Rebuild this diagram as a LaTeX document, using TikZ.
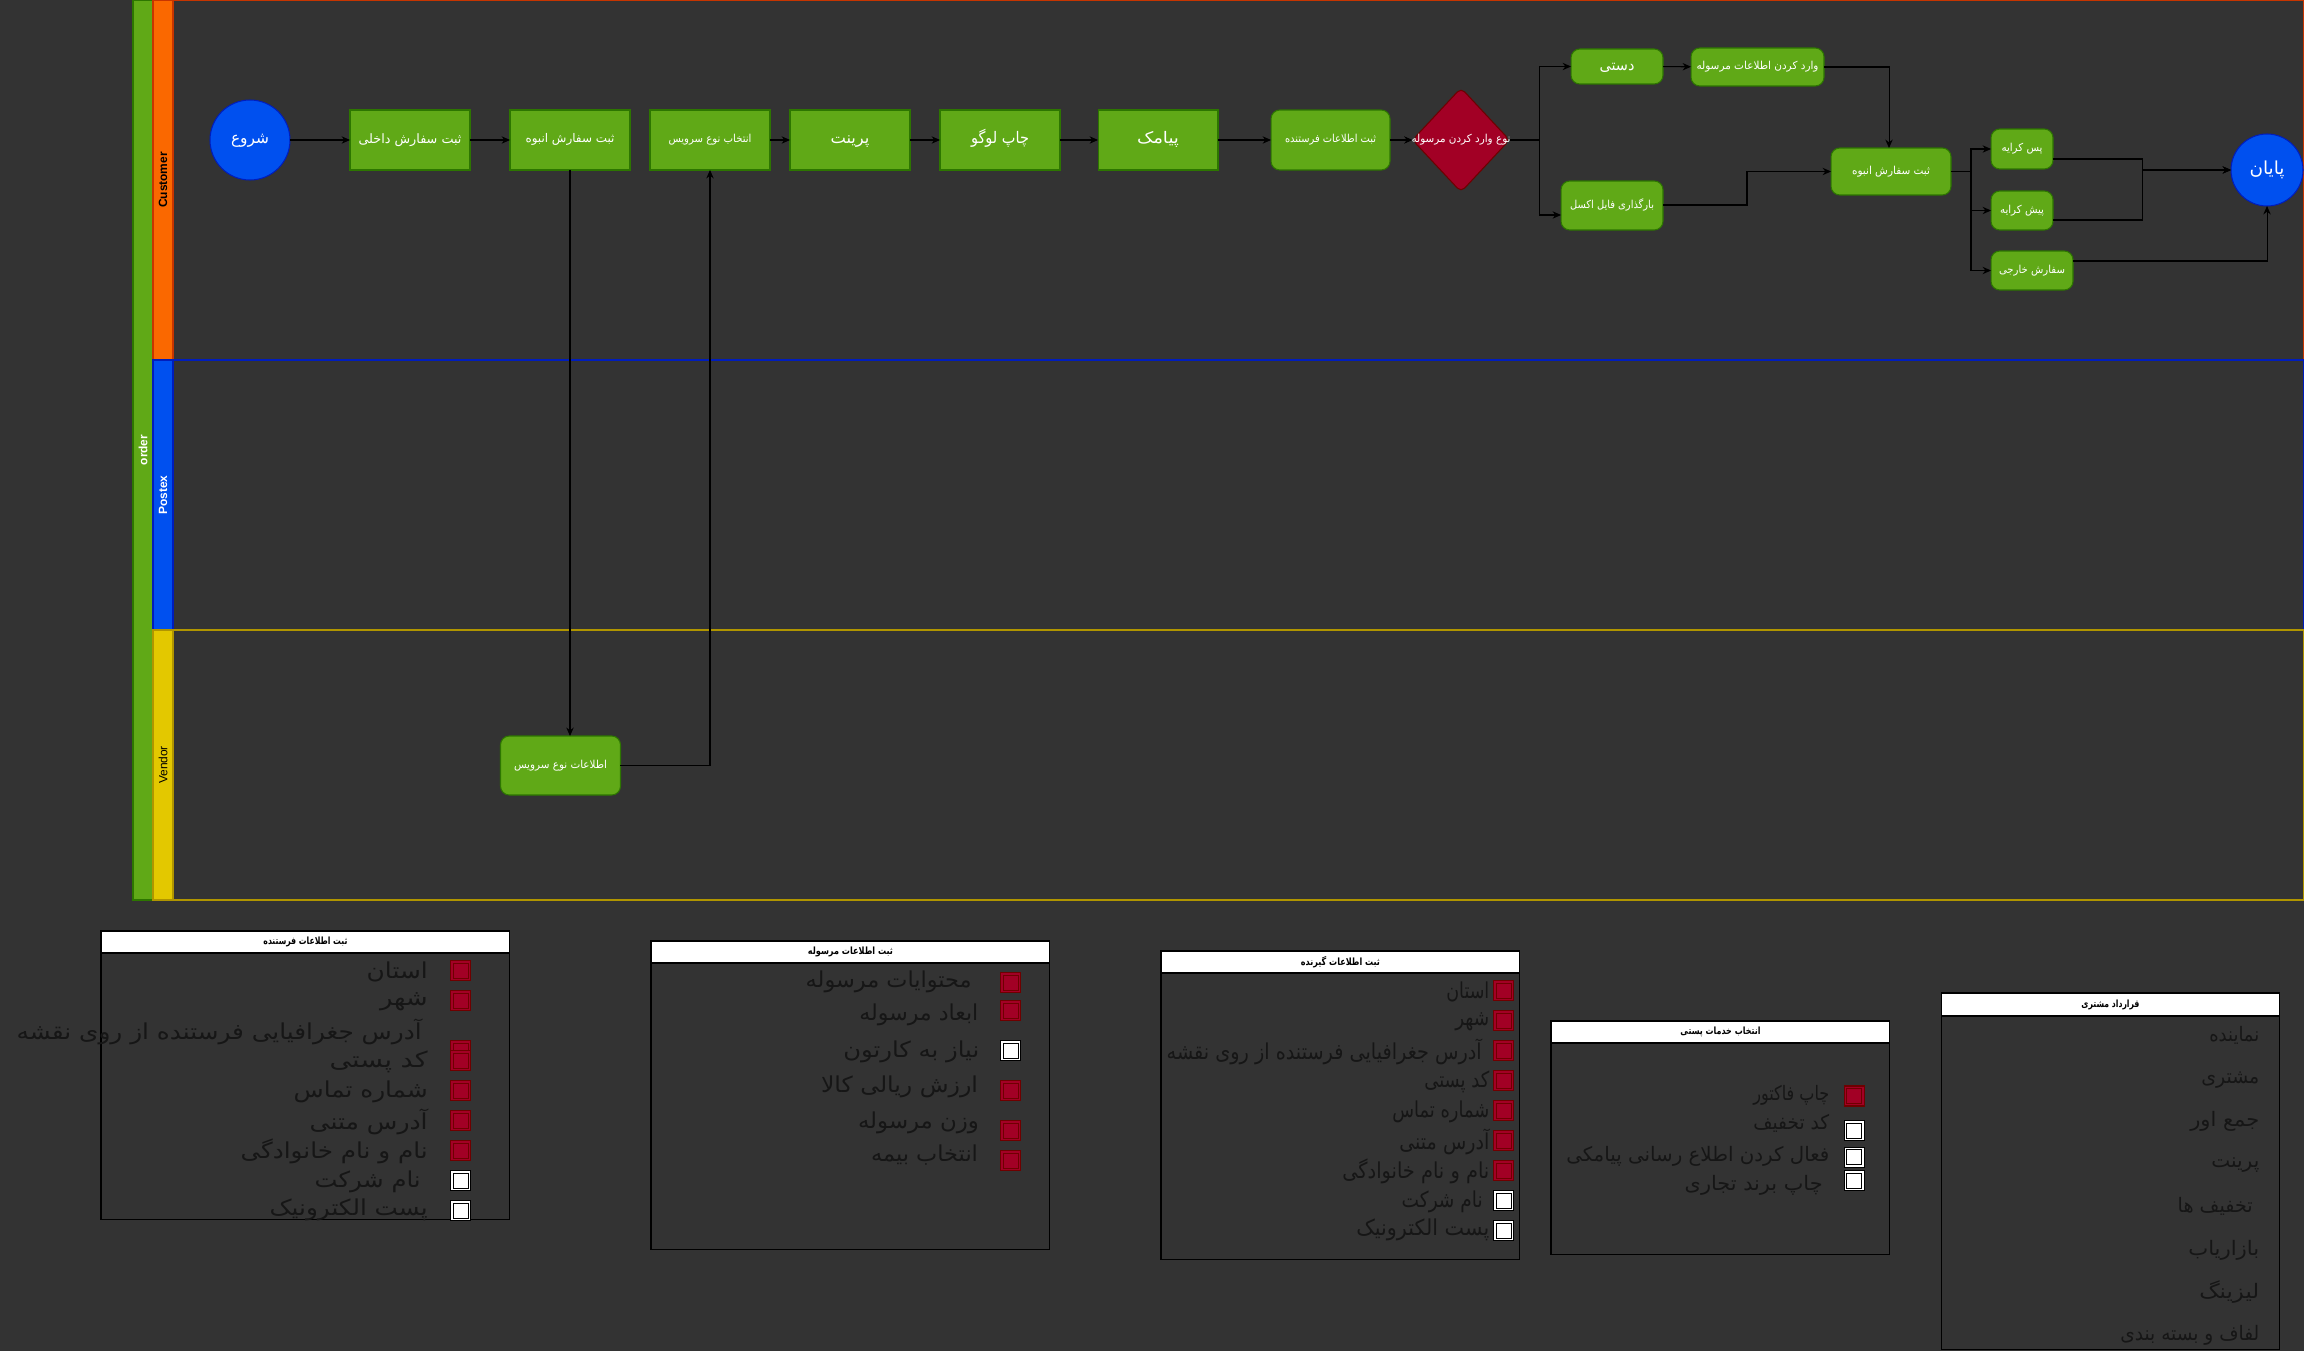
\documentclass[tikz,border=0pt]{standalone}
\usepackage{fontspec}
\usepackage{graphicx}
\setmainfont{Liberation Sans}
\newfontfamily\arabicfont[Script=Arabic]{DejaVu Sans}
\TeXXeTstate=1
\usetikzlibrary{arrows.meta,shapes.geometric,calc}
\definecolor{bg}{HTML}{333333}
\definecolor{gfill}{HTML}{60A917}
\definecolor{gbord}{HTML}{2D7600}
\definecolor{bfill}{HTML}{0050EF}
\definecolor{bbord}{HTML}{001DBC}
\definecolor{rfill}{HTML}{A20025}
\definecolor{rbord}{HTML}{6F0000}
\definecolor{orf}{HTML}{FA6800}
\definecolor{orb}{HTML}{C73500}
\definecolor{yef}{HTML}{E3C800}
\definecolor{yeb}{HTML}{B09500}
\definecolor{tx}{HTML}{161616}
\newdimen\px \px=0.02cm
\newcommand\faw[2]{\resizebox{#1\px}{\height}{\arabicfont #2}}
\newcommand\chkR[2]{\draw[draw=rbord, fill=rfill, line width=0.6pt] (#1,#2) rectangle ++(20,20);
  \draw[draw=rbord, line width=0.45pt] (#1+2.5,#2+2.5) rectangle ++(15,15);}
\newcommand\chkW[2]{\draw[draw=black, fill=white, line width=0.6pt] (#1,#2) rectangle ++(20,20);
  \draw[draw=black, line width=0.45pt] (#1+2.5,#2+2.5) rectangle ++(15,15);}
\tikzset{
  base/.style={inner sep=0pt, outer sep=0pt},
  gsq/.style={base, draw=gbord, fill=gfill, line width=0.6pt, text=white},
  grd/.style={gsq, rounded corners=5pt},
  circ/.style={base, circle, draw=bbord, fill=bfill, line width=0.6pt, text=white},
  dec/.style={base, diamond, draw=rbord, fill=rfill, line width=0.6pt, rounded corners=3pt},
  arr/.style={line width=0.6pt, draw=black, -{Stealth[length=4.8pt,width=4.2pt]}},
  lanelab/.style={base, rotate=90, font=\bfseries\fontsize{6.8}{8}\selectfont},
  hdr/.style={base, anchor=north west, draw=black, fill=white, line width=0.6pt, font=\bfseries\fontsize{5.67}{7}\selectfont},
  tbl/.style={base, anchor=north west, draw=black, line width=0.6pt},
  tt/.style={base, anchor=east, text=tx},
  f11/.style={font=\fontsize{6.24}{7.5}\selectfont, text height=4.7pt, text depth=1.56pt},
  f12/.style={font=\fontsize{6.8}{8}\selectfont, text height=5.1pt, text depth=1.7pt},
  f13/.style={font=\fontsize{7.37}{9}\selectfont, text height=5.5pt, text depth=1.84pt},
  f15/.style={font=\fontsize{8.5}{10}\selectfont, text height=6.4pt, text depth=2.1pt},
  f16/.style={font=\fontsize{9.07}{11}\selectfont, text height=6.8pt, text depth=2.27pt},
  f18/.style={font=\fontsize{10.2}{12}\selectfont, text height=7.65pt, text depth=2.55pt},
  f20/.style={font=\fontsize{11.34}{13}\selectfont},
  f22/.style={font=\fontsize{12.47}{14}\selectfont},
}
\begin{document}
\begin{tikzpicture}[x=0.02cm,y=-0.02cm]
\fill[bg] (0,0) rectangle (2304,1351);
\useasboundingbox (0,0) rectangle (2304,1351);

% pool and lanes
\draw[draw=gbord, fill=gfill, line width=0.6pt] (133,0.5) rectangle (153,900);
\draw[draw=orb, fill=orf, line width=0.6pt] (153,0.5) rectangle (173,360);
\draw[draw=orb, line width=0.6pt] (173,0.5) -- (2303,0.5) -- (2303,360);
\draw[draw=bbord, fill=bfill, line width=0.6pt] (153,360) rectangle (173,630);
\draw[draw=bbord, line width=0.6pt] (173,360) -- (2303,360) -- (2303,630);
\draw[draw=yeb, fill=yef, line width=0.6pt] (153,630) rectangle (173,900);
\draw[draw=yeb, line width=0.6pt] (173,630) -- (2303,630) -- (2303,900) -- (173,900);
\node[lanelab, text=white] (order) at (143,450) {order};
\node[lanelab, text=black] (cust) at (163,180) {Customer};
\node[lanelab, text=white] (postex) at (163,495) {Postex};
\node[lanelab, text=black, font=\fontsize{6.8}{8}\selectfont] (vendor) at (163,765) {Vendor};

% customer lane
\node[circ, minimum size=1.6cm, f16] (start) at (250,140) {\faw{38}{\beginR شروع\endR}};
\node[gsq, minimum width=2.4cm, minimum height=1.2cm, f13] (b1) at (410,140) {\faw{103}{\beginR ثبت سفارش داخلی\endR}};
\node[gsq, minimum width=2.4cm, minimum height=1.2cm, f12] (b2) at (570,140) {\faw{89}{\beginR ثبت سفارش انبوه\endR}};
\node[gsq, minimum width=2.4cm, minimum height=1.2cm, f11] (b3) at (710,140) {\faw{83}{\beginR انتخاب نوع سرویس\endR}};
\node[gsq, minimum width=2.4cm, minimum height=1.2cm, f16] (b4) at (850,140) {\faw{39}{\beginR پرینت\endR}};
\node[gsq, minimum width=2.4cm, minimum height=1.2cm, f16] (b5) at (1000,140) {\faw{58}{\beginR چاپ لوگو\endR}};
\node[gsq, minimum width=2.4cm, minimum height=1.2cm, f16] (b6) at (1158,140) {\faw{42}{\beginR پیامک\endR}};
\node[grd, minimum width=2.38cm, minimum height=1.2cm, f11] (b7) at (1330.5,140) {\faw{91}{\beginR ثبت اطلاعات فرستنده\endR}};
\node[dec, minimum width=1.94cm, minimum height=2.08cm] (d) at (1461,140) {};
\node[base, text=white, f11] (dlab) at (d) {\faw{99}{\beginR نوع وارد کردن مرسوله\endR}};
\node[grd, minimum width=1.84cm, minimum height=0.7cm, f15] (man) at (1617,66.5) {\faw{35}{\beginR دستی\endR}};
\node[grd, minimum width=2.66cm, minimum height=0.76cm, f11] (enter) at (1757.5,67) {\faw{122}{\beginR وارد کردن اطلاعات مرسوله\endR}};
\node[grd, minimum width=2.04cm, minimum height=0.98cm, f11] (excel) at (1612,205.5) {\faw{84}{\beginR بارگذاری فایل اکسل\endR}};
\node[grd, minimum width=2.4cm, minimum height=0.94cm, f11] (bulk2) at (1891,171.5) {\faw{78}{\beginR ثبت سفارش انبوه\endR}};
\node[grd, minimum width=1.24cm, minimum height=0.8cm, f11] (pas) at (2022,149) {\faw{41}{\beginR پس کرایه\endR}};
\node[grd, minimum width=1.24cm, minimum height=0.78cm, f11] (pish) at (2022,210.5) {\faw{44}{\beginR پیش کرایه\endR}};
\node[grd, minimum width=1.64cm, minimum height=0.78cm, f11] (ext) at (2032,270.5) {\faw{66}{\beginR سفارش خارجی\endR}};
\node[circ, minimum size=1.44cm, f18] (end) at (2267,170) {\faw{35}{\beginR پایان\endR}};
\coordinate (j) at (2142,170);

% vendor lane
\node[grd, minimum width=2.4cm, minimum height=1.18cm, f11] (vend) at (560.5,765.5) {\faw{93}{\beginR اطلاعات نوع سرویس\endR}};

% connectors
\draw[arr] (start) -- (b1);
\draw[arr] (b1) -- (b2);
\draw[arr] (b3) -- (b4);
\draw[arr] (b4) -- (b5);
\draw[arr] (b5) -- (b6);
\draw[arr] (b6) -- (b7);
\draw[arr] (b7) -- (d);
\draw[arr] (d.east) -- ++(30,0) |- (man.west);
\draw[arr] (d.east) -- ++(30,0) |- ($(excel.west)+(0,9.5)$);
\draw[arr] (man) -- (enter);
\draw[arr] (enter.east) -| ($(bulk2.north)+(-2,0)$);
\draw[arr] ($(excel.east)+(0,-0.5)$) -- ++(84,0) |- (bulk2.west);
\draw[arr] (bulk2.east) -- ++(20,0) |- (pas.west);
\draw[arr] (bulk2.east) -- ++(20,0) |- (pish.west);
\draw[arr] (bulk2.east) -- ++(20,0) |- (ext.west);
\draw[arr] ($(pas.east)+(0,10)$) -| (j) -- (end.west);
\draw[arr] ($(pish.east)+(0,9.5)$) -| (j) -- (end.west);
\draw[arr] ($(ext.east)+(0,-9.5)$) -| (end.south);
\draw[arr] (b2.south) -- (b2.south |- vend.north);
\draw[arr] (vend.east) -| (b3.south);

% table 1
\node[tbl, minimum width=8.18cm, minimum height=5.78cm] (t1) at (101,931) {};
\node[hdr, minimum width=8.18cm, minimum height=0.44cm] (t1h) at (101,931) {\faw{84}{\beginR ثبت اطلاعات فرستنده\endR}};
\node[tt, f22] (t1a) at (427.7,971.7) {\faw{61}{\beginR استان\endR}};
\node[tt, f22] (t1b) at (427.7,1001.7) {\faw{47.7}{\beginR شهر\endR}};
\node[tt, f22] (t1c) at (421.7,1031.7) {\faw{405}{\beginR آدرس جغرافیایی فرستنده از روی نقشه\endR}};
\node[tt, f22] (t1d) at (427.7,1061.7) {\faw{98}{\beginR کد پستی\endR}};
\node[tt, f22] (t1e) at (427.7,1091.7) {\faw{134}{\beginR شماره تماس\endR}};
\node[tt, f22] (t1f) at (427.7,1121.7) {\faw{118}{\beginR آدرس متنی\endR}};
\node[tt, f22] (t1g) at (427.7,1151.7) {\faw{187}{\beginR نام و نام خانوادگی\endR}};
\node[tt, f22] (t1h2) at (420.7,1181.7) {\faw{106}{\beginR نام شرکت\endR}};
\node[tt, f22] (t1i) at (427.7,1210) {\faw{158}{\beginR پست الکترونیک\endR}};
\chkR{450.7}{960.7}
\chkR{450.7}{990.7}
\chkR{450.7}{1040.7}
\chkR{450.7}{1050.7}
\chkR{450.7}{1080.7}
\chkR{450.7}{1110.7}
\chkR{450.7}{1140.7}
\chkW{450.7}{1170.7}
\chkW{450.7}{1200.7}

% table 2
\node[tbl, minimum width=7.98cm, minimum height=6.18cm] (t2) at (651,941) {};
\node[hdr, minimum width=7.98cm, minimum height=0.44cm] (t2h) at (651,941) {\faw{85}{\beginR ثبت اطلاعات مرسوله\endR}};
\node[tt, f22] (t2a) at (971.7,981.7) {\faw{166}{\beginR محتوایات مرسوله\endR}};
\node[tt, f22] (t2b) at (978.3,1015) {\faw{119}{\beginR ابعاد مرسوله\endR}};
\node[tt, f22] (t2c) at (979.3,1051.7) {\faw{136}{\beginR نیاز به کارتون\endR}};
\node[tt, f22] (t2d) at (978,1086.7) {\faw{157}{\beginR ارزش ریالی کالا\endR}};
\node[tt, f22] (t2e) at (979,1123.3) {\faw{121}{\beginR وزن مرسوله\endR}};
\node[tt, f22] (t2f) at (978,1155) {\faw{107}{\beginR انتخاب بیمه\endR}};
\chkR{1000.7}{972.7}
\chkR{1000.7}{1000.7}
\chkW{1000.7}{1040.7}
\chkR{1000.7}{1080.7}
\chkR{1000.7}{1120.7}
\chkR{1000.7}{1150.7}

% table 3
\node[tbl, minimum width=7.18cm, minimum height=6.18cm] (t3) at (1161,951) {};
\node[hdr, minimum width=7.18cm, minimum height=0.44cm] (t3h) at (1161,951) {\faw{79}{\beginR ثبت اطلاعات گیرنده\endR}};
\node[tt, f22] (t3a) at (1489.3,991.7) {\faw{43}{\beginR استان\endR}};
\node[tt, f22] (t3b) at (1489.3,1021.7) {\faw{34}{\beginR شهر\endR}};
\node[tt, f22] (t3c) at (1481.7,1051.7) {\faw{315}{\beginR آدرس جغرافیایی فرستنده از روی نقشه\endR}};
\node[tt, f22] (t3d) at (1489.3,1081.7) {\faw{65}{\beginR کد پستی\endR}};
\node[tt, f22] (t3e) at (1489.3,1111.7) {\faw{97}{\beginR شماره تماس\endR}};
\node[tt, f22] (t3f) at (1489.3,1141.7) {\faw{90}{\beginR آدرس متنی\endR}};
\node[tt, f22] (t3g) at (1489.3,1171.7) {\faw{147}{\beginR نام و نام خانوادگی\endR}};
\node[tt, f22] (t3h2) at (1482.7,1201.7) {\faw{81}{\beginR نام شرکت\endR}};
\node[tt, f22] (t3i) at (1489.3,1230) {\faw{133}{\beginR پست الکترونیک\endR}};
\chkR{1493.5}{980.7}
\chkR{1493.5}{1010.7}
\chkR{1493.5}{1040.7}
\chkR{1493.5}{1070.7}
\chkR{1493.5}{1100.7}
\chkR{1493.5}{1130.7}
\chkR{1493.5}{1160.7}
\chkW{1493.5}{1190.7}
\chkW{1493.5}{1220.7}

% table 4
\node[tbl, minimum width=6.78cm, minimum height=4.68cm] (t4) at (1551,1021) {};
\node[hdr, minimum width=6.78cm, minimum height=0.44cm] (t4h) at (1551,1021) {\faw{80}{\beginR انتخاب خدمات پستی\endR}};
\node[tt, f20] (t4a) at (1829.3,1095) {\faw{76}{\beginR چاپ فاکتور\endR}};
\node[tt, f20] (t4b) at (1829.3,1123.3) {\faw{76}{\beginR کد تخفیف\endR}};
\node[tt, f20] (t4c) at (1829.3,1156.7) {\faw{263}{\beginR فعال کردن اطلاع رسانی پیامکی\endR}};
\node[tt, f20] (t4d) at (1822.7,1185) {\faw{138}{\beginR چاپ برند تجاری\endR}};
\chkR{1844}{1086}
\chkW{1844}{1120.7}
\chkW{1844}{1147.3}
\chkW{1844}{1170.7}

% table 5
\node[tbl, minimum width=6.78cm, minimum height=7.13cm] (t5) at (1941,993) {};
\node[hdr, minimum width=6.78cm, minimum height=0.46cm] (t5h) at (1941,993) {\faw{58}{\beginR قرارداد مشتری\endR}};
\node[tt, f20] (t5a) at (2259.3,1035) {\faw{50}{\beginR نماینده\endR}};
\node[tt, f20] (t5b) at (2259.3,1080) {\faw{58}{\beginR مشتری\endR}};
\node[tt, f20] (t5c) at (2259.3,1121.7) {\faw{69}{\beginR جمع اور\endR}};
\node[tt, f20] (t5d) at (2259.3,1165) {\faw{48}{\beginR پرینت\endR}};
\node[tt, f20] (t5e) at (2252.7,1206.7) {\faw{75}{\beginR تخفیف ها\endR}};
\node[tt, f20] (t5f) at (2259.3,1250) {\faw{71}{\beginR بازاریاب\endR}};
\node[tt, f20] (t5g) at (2259.3,1291.7) {\faw{60}{\beginR لیزینگ\endR}};
\node[tt, f20] (t5i) at (2259.3,1335) {\faw{139}{\beginR لفاف و بسته بندی\endR}};
\end{tikzpicture}
\end{document}
